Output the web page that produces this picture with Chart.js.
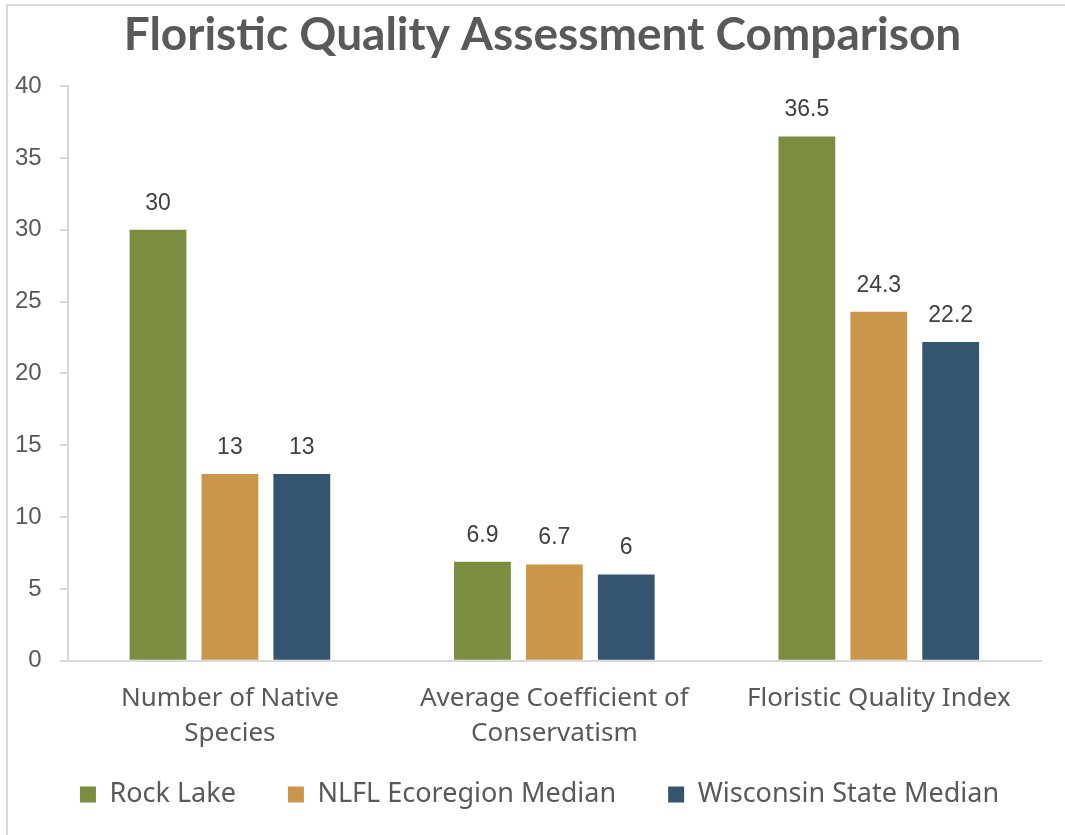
<!DOCTYPE html>
<html>
<head>
<meta charset="utf-8">
<script src="https://cdn.jsdelivr.net/npm/chart.js@4/dist/chart.umd.min.js"></script>
<style>
  html, body { margin: 0; padding: 0; background: #fff; }
  #wrap { position: relative; width: 1065px; height: 835px; }
  #frame { position: absolute; left: 6px; top: 4px; right: 0; bottom: 0;
           border-left: 2px solid #d9d9d9; border-top: 2px solid #d9d9d9; pointer-events: none; }
</style>
</head>
<body>
<div id="wrap">
  <canvas id="myChart" width="1065" height="835"></canvas>
  <div id="frame"></div>
</div>
<script>
// data
const categories = [
  ['Number of Native', 'Species'],
  ['Average Coefficient of', 'Conservatism'],
  'Floristic Quality Index'
];
const rockLake = [30, 6.9, 36.5];
const nlflMedian = [13, 6.7, 24.3];
const wisconsinMedian = [13, 6, 22.2];
const seriesNames = ['Rock Lake', 'NLFL Ecoregion Median', 'Wisconsin State Median'];
const seriesColors = ['#7B8D3F', '#C9964A', '#34546F'];

const textGray = '#595959';
const lineGray = '#d9d9d9';

// value labels above bars
const barLabels = {
  id: 'barLabels',
  afterDatasetsDraw(chart) {
    const ctx = chart.ctx;
    ctx.save();
    ctx.font = '23px "Liberation Sans", Arial, sans-serif';
    ctx.fillStyle = '#404040';
    ctx.textAlign = 'center';
    ctx.textBaseline = 'bottom';
    chart.data.datasets.forEach((ds, i) => {
      chart.getDatasetMeta(i).data.forEach((bar, j) => {
        ctx.fillText(ds.data[j], bar.x, bar.y - 15);
      });
    });
    ctx.restore();
  }
};

// nudge title + legend to where they sit in the original
const boxShift = {
  id: 'boxShift',
  afterLayout(chart) {
    const lg = chart.legend;
    lg.left += 20.5;
    lg.right += 20.5;
    lg.top -= 34;
    lg.bottom -= 34;
    chart.titleBlock.left += 47;
  }
};

chartIt();
async function chartIt() {
  // make sure the canvas measures text with the real fonts
  await Promise.allSettled([
    document.fonts.load('bold 46px Lato'),
    document.fonts.load('27px "Noto Sans"'),
    document.fonts.load('24px "Liberation Sans"')
  ]);

  const ctx = document.getElementById('myChart').getContext('2d');
  const myChart = new Chart(ctx, {
    type: 'bar',
    data: {
      labels: categories,
      datasets: [rockLake, nlflMedian, wisconsinMedian].map((d, i) => ({
        label: seriesNames[i],
        data: d,
        backgroundColor: seriesColors[i],
        borderWidth: 0,
        categoryPercentage: 0.665,
        barPercentage: 0.79
      }))
    },
    options: {
      responsive: false,
      animation: false,
      layout: { padding: { left: -3, right: 24, top: 6, bottom: -17 } },
      plugins: {
        title: {
          display: true,
          text: 'Floristic Quality Assessment Comparison',
          color: textGray,
          font: { family: 'Lato', size: 46, weight: 'bold' },
          padding: { top: 2, bottom: 23 }
        },
        legend: {
          position: 'bottom',
          labels: {
            color: textGray,
            font: { family: 'Noto Sans', size: 27 },
            boxWidth: 16,
            boxHeight: 16,
            padding: 52
          }
        },
        tooltip: { enabled: false }
      },
      scales: {
        x: {
          grid: { display: false },
          border: { color: lineGray, width: 2 },
          ticks: {
            color: textGray,
            font: { family: 'Noto Sans', size: 26, lineHeight: 1.35 },
            padding: 12
          }
        },
        y: {
          min: 0,
          max: 40,
          ticks: {
            stepSize: 5,
            color: textGray,
            font: { family: 'Liberation Sans', size: 24 },
            padding: 18
          },
          grid: { drawOnChartArea: false, drawTicks: true, tickLength: 8, color: lineGray, lineWidth: 2 },
          border: { color: lineGray, width: 2 }
        }
      }
    },
    plugins: [barLabels, boxShift]
  });
}
</script>
</body>
</html>
